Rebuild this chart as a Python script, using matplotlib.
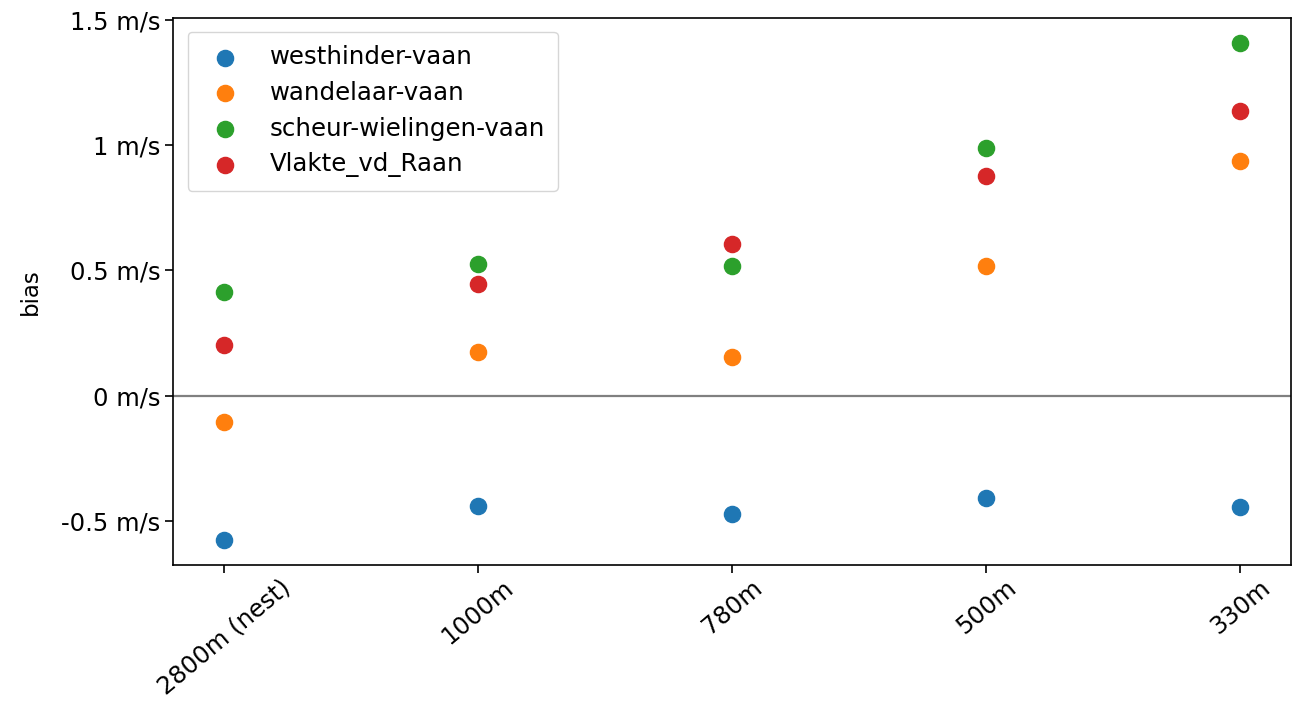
import numpy as np
import matplotlib.pyplot as plt
from matplotlib.ticker import FuncFormatter, MultipleLocator

# resolutions and bias per station
resolutions = ["2800m (nest)", "1000m", "780m", "500m", "330m"]
westhinder = [-0.576, -0.440, -0.472, -0.408, -0.444]
wandelaar = [-0.104, 0.176, 0.156, 0.516, 0.936]
scheur = [0.412, 0.524, 0.516, 0.988, 1.408]
vlakte = [0.204, 0.444, 0.604, 0.876, 1.136]

series = [
    ("westhinder-vaan", westhinder),
    ("wandelaar-vaan", wandelaar),
    ("scheur-wielingen-vaan", scheur),
    ("Vlakte_vd_Raan", vlakte),
]

fig = plt.figure(figsize=(12.92, 7.09), dpi=100)
ax = fig.add_axes([0.134, 0.203, 0.865, 0.772])

x = np.arange(len(resolutions))
for name, vals in series:
    ax.scatter(x, vals, s=135, label=name, zorder=3)

ax.axhline(0, color="gray", lw=1.6, zorder=1)

ax.set_xticks(x)
ax.set_xticklabels(resolutions, rotation=40, ha="center")
ax.yaxis.set_major_locator(MultipleLocator(0.5))
ax.yaxis.set_major_formatter(FuncFormatter(lambda v, p: f"{v:g} m/s"))
ax.tick_params(labelsize=17.5, length=5.5, width=1.2)
ax.tick_params(axis="x", pad=2)
for sp in ax.spines.values():
    sp.set_linewidth(1.2)
ax.set_ylabel("bias", fontsize=16.5, labelpad=14)
ax.legend(loc="upper left", fontsize=17.6, labelspacing=0.48, borderpad=0.55,
          bbox_to_anchor=(0.002, 0.997))

fig.savefig("out.png", dpi=100)
